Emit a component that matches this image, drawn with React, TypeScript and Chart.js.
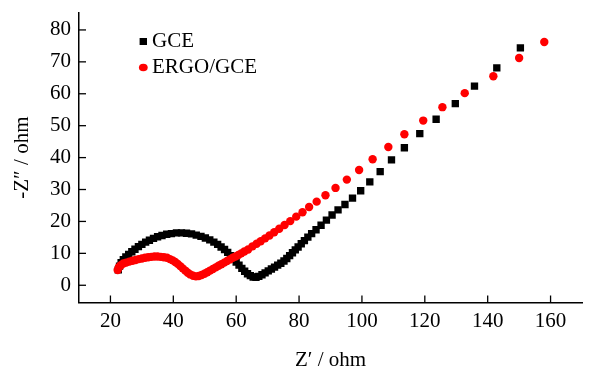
import { useEffect, useRef } from "react";
import { Chart, registerables } from "chart.js";

Chart.register(...registerables);

const seriesNames = ["GCE", "ERGO/GCE"];

const gceX = [
  22.5, 22.9, 23.4, 24.1, 24.9, 25.8, 26.8, 27.8, 28.9, 30.0, 31.2, 32.4, 33.7, 35.0, 36.4, 37.9,
  39.4, 41.0, 42.6, 44.2, 45.8, 47.3, 48.8, 50.2, 51.6, 52.9, 54.1, 55.2, 56.3, 57.3, 58.2, 59.1,
  60.0, 60.9, 61.8, 62.7, 63.6, 64.5, 65.4, 66.3, 67.2, 68.2, 69.2, 70.2, 71.2, 72.2, 73.2, 74.2,
  75.2, 76.1, 77.0, 77.9, 78.8, 79.7, 80.7, 81.7, 82.8, 84.0, 85.4, 87.0, 88.7, 90.5, 92.4, 94.6,
  97.0, 99.6, 102.5, 105.8, 109.4, 113.5, 118.4, 123.6, 129.7, 135.8, 142.9, 150.4,
];
const gceY = [
  4.8, 6.0, 7.1, 8.0, 8.9, 9.7, 10.5, 11.3, 12.1, 12.8, 13.5, 14.1, 14.7, 15.2, 15.6, 16.0,
  16.2, 16.4, 16.4, 16.3, 16.1, 15.7, 15.3, 14.8, 14.2, 13.5, 12.8, 12.0, 11.2, 10.3, 9.3, 8.3,
  7.3, 6.3, 5.3, 4.4, 3.6, 3.0, 2.6, 2.5, 2.8, 3.3, 3.9, 4.5, 5.1, 5.7, 6.3, 6.9,
  7.6, 8.4, 9.3, 10.2, 11.1, 12.0, 13.0, 14.0, 15.1, 16.2, 17.4, 18.8, 20.4, 22.0, 23.6, 25.3,
  27.3, 29.6, 32.4, 35.6, 39.3, 43.1, 47.5, 52.0, 56.9, 62.4, 68.1, 74.4,
];

const ergoX = [
  22.3, 22.7, 23.3, 24.1, 25.0, 26.0, 27.0, 28.0, 29.0, 30.0, 31.0, 32.0, 33.0, 34.0, 35.0, 36.0,
  37.0, 38.0, 38.9, 39.8, 40.6, 41.4, 42.2, 43.0, 43.8, 44.6, 45.4, 46.3, 47.2, 48.1, 49.0, 49.9,
  50.8, 51.7, 52.6, 53.5, 54.4, 55.3, 56.2, 57.1, 58.0, 58.9, 59.8, 60.7, 61.6, 62.6, 63.8, 65.2,
  66.5, 67.8, 69.2, 70.6, 72.1, 73.7, 75.4, 77.2, 79.1, 81.1, 83.2, 85.6, 88.4, 91.6, 95.2, 99.1,
  103.4, 108.4, 113.5, 119.5, 125.6, 132.7, 141.8, 150.0, 158.0,
];
const ergoY = [
  4.8, 5.7, 6.3, 6.8, 7.1, 7.4, 7.7, 7.9, 8.2, 8.4, 8.6, 8.8, 8.9, 9.0, 9.0, 8.9,
  8.8, 8.6, 8.2, 7.8, 7.3, 6.7, 6.0, 5.3, 4.6, 3.9, 3.4, 3.0, 2.8, 2.9, 3.2, 3.6,
  4.1, 4.6, 5.1, 5.6, 6.1, 6.6, 7.1, 7.6, 8.1, 8.6, 9.0, 9.5, 10.0, 10.6, 11.2, 12.2,
  13.0, 13.8, 14.7, 15.6, 16.6, 17.7, 18.9, 20.1, 21.5, 22.9, 24.5, 26.2, 28.2, 30.5, 33.1, 36.1,
  39.5, 43.3, 47.3, 51.6, 55.8, 60.2, 65.5, 71.2, 76.2,
];

const xTicks = [20, 40, 60, 80, 100, 120, 140, 160];
const yTicks = [0, 10, 20, 30, 40, 50, 60, 70, 80];

const FONT = "'Liberation Serif', 'Times New Roman', serif";
const FS = 21;

const customPlugin = {
  id: "inwardTicksAndLegend",
  afterDraw(chart: any) {
    const { ctx, chartArea, scales } = chart;
    const { left, bottom } = chartArea;
    ctx.save();
    ctx.strokeStyle = "#000";
    ctx.lineWidth = 1.3;
    xTicks.forEach((v) => {
      const px = scales.x.getPixelForValue(v);
      ctx.beginPath();
      ctx.moveTo(px, bottom);
      ctx.lineTo(px, bottom - 7);
      ctx.stroke();
    });
    yTicks.forEach((v) => {
      const py = scales.y.getPixelForValue(v);
      ctx.beginPath();
      ctx.moveTo(left, py);
      ctx.lineTo(left + 7, py);
      ctx.stroke();
    });
    // legend
    ctx.fillStyle = "#000";
    ctx.fillRect(139.6, 38, 7.4, 7);
    ctx.fillStyle = "#ff0000";
    ctx.beginPath();
    ctx.ellipse(143.3, 67.5, 4.4, 3.8, 0, 0, Math.PI * 2);
    ctx.fill();
    ctx.fillStyle = "#000";
    ctx.font = `${FS}px ${FONT}`;
    ctx.textBaseline = "middle";
    ctx.textAlign = "left";
    ctx.fillText(seriesNames[0], 152, 41.5);
    ctx.fillText(seriesNames[1], 152, 67.8);
    ctx.restore();
  },
};

export default function App() {
  const ref = useRef<HTMLCanvasElement>(null);
  useEffect(() => {
    document.body.style.margin = "0";
    const canvas = ref.current!;
    const chart = new Chart(canvas, {
      type: "scatter",
      data: {
        datasets: [
          {
            label: seriesNames[0],
            data: gceX.map((x, i) => ({ x, y: gceY[i] })),
            showLine: false,
            pointStyle: "rect",
            pointRadius: 5.2,
            pointBackgroundColor: "#000",
            pointBorderWidth: 0,
            backgroundColor: "#000",
            borderColor: "#000",
            order: 2,
          },
          {
            label: seriesNames[1],
            data: ergoX.map((x, i) => ({ x, y: ergoY[i] })),
            showLine: false,
            pointStyle: "circle",
            pointRadius: 4.2,
            pointBackgroundColor: "#ff0000",
            pointBorderWidth: 0,
            backgroundColor: "#ff0000",
            borderColor: "#ff0000",
            order: 1,
          },
        ],
      },
      options: {
        responsive: false,
        animation: false,
        devicePixelRatio: 1,
        layout: { padding: { top: 12.7, right: 8, left: 0, bottom: 0 } },
        plugins: { legend: { display: false }, tooltip: { enabled: false } },
        scales: {
          x: {
            type: "linear",
            position: "bottom",
            min: 10,
            max: 170,
            afterFit: (s: any) => {
              s.height = 64.5;
              s.paddingLeft = 0;
              s.paddingRight = 0;
            },
            afterBuildTicks: (s: any) => {
              s.ticks = xTicks.map((v) => ({ value: v }));
            },
            grid: { display: false, drawTicks: false },
            border: { display: true, color: "#000", width: 1.5 },
            ticks: {
              color: "#000",
              font: { family: FONT, size: FS },
              padding: 6,
              maxRotation: 0,
              autoSkip: false,
            },
            title: {
              display: true,
              text: "Z′ / ohm",
              color: "#000",
              font: { family: FONT, size: FS },
              padding: { top: 0, bottom: -6 },
            },
          },
          y: {
            type: "linear",
            position: "left",
            min: -5.4,
            max: 85.4,
            afterFit: (s: any) => {
              s.width = 79;
              s.paddingTop = 0;
              s.paddingBottom = 0;
            },
            afterBuildTicks: (s: any) => {
              s.ticks = yTicks.map((v) => ({ value: v }));
            },
            grid: { display: false, drawTicks: false },
            border: { display: true, color: "#000", width: 1.5 },
            ticks: {
              color: "#000",
              font: { family: FONT, size: FS },
              padding: 8,
              autoSkip: false,
            },
            title: {
              display: true,
              text: "-Z″ / ohm",
              color: "#000",
              font: { family: FONT, size: FS },
              padding: { top: 10, bottom: 0 },
            },
          },
        },
      },
      plugins: [customPlugin],
    });
    return () => chart.destroy();
  }, []);
  return (
    <div style={{ position: "absolute", left: 0, top: 0, width: 590, height: 367, background: "#fff" }}>
      <canvas ref={ref} width={590} height={367} style={{ width: 590, height: 367, display: "block" }} />
    </div>
  );
}
